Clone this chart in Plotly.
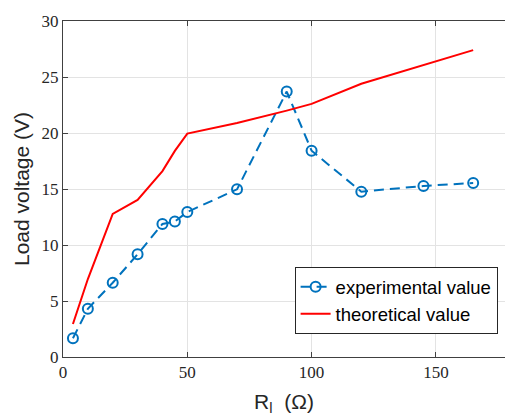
import plotly.graph_objects as go

r_exp = [4, 10, 20, 30, 40, 45, 50, 70, 90, 100, 120, 145, 165]
v_exp = [1.67, 4.31, 6.63, 9.17, 11.88, 12.1, 12.95, 14.97, 23.7, 18.42, 14.76, 15.27, 15.54]

r_th = [4, 10, 20, 30, 40, 45, 50, 70, 90, 100, 120, 145, 165]
v_th = [2.95, 6.96, 12.77, 14.02, 16.6, 18.4, 19.95, 20.9, 22.0, 22.6, 24.4, 26.1, 27.4]

x_ticks = [0, 50, 100, 150]
y_ticks = [0, 5, 10, 15, 20, 25, 30]

fig = go.Figure()
fig.add_trace(go.Scatter(
    x=r_exp, y=v_exp, mode="lines+markers", name="experimental value",
    line=dict(color="#0072BD", width=2, dash="10px,6px"),
    marker=dict(symbol="circle-open", size=10, color="#0072BD", line=dict(width=2)),
))
fig.add_trace(go.Scatter(
    x=r_th, y=v_th, mode="lines", name="theoretical value",
    line=dict(color="#FF0000", width=2),
))

tickfont = dict(family="Liberation Serif, serif", size=17, color="#262626")
fig.update_layout(
    width=505, height=416,
    margin=dict(l=63, r=0, t=21, b=59),
    paper_bgcolor="white", plot_bgcolor="white",
    showlegend=True,
    legend=dict(
        x=0.524, y=0.068, xanchor="left", yanchor="bottom",
        bgcolor="white", bordercolor="#262626", borderwidth=1,
        font=dict(family="Liberation Sans", size=18.5, color="black"),
        tracegroupgap=0, itemwidth=30,
    ),
    xaxis=dict(
        range=[0, 177.8], tickvals=x_ticks, ticktext=[str(t) for t in x_ticks],
        showgrid=True, gridcolor="#E3E3E3", gridwidth=1,
        showline=True, linecolor="#404040", linewidth=1, mirror="allticks",
        ticks="inside", ticklen=5, tickcolor="#404040",
        tickfont=tickfont, zeroline=False, automargin=False,
        title=dict(text="R<sub>l</sub>  (Ω)", font=dict(family="Liberation Sans", size=21, color="#262626"), standoff=14),
    ),
    yaxis=dict(
        range=[0, 30], tickvals=y_ticks, ticktext=[str(t) for t in y_ticks],
        showgrid=True, gridcolor="#E3E3E3", gridwidth=1,
        showline=True, linecolor="#404040", linewidth=1, mirror=False,
        ticks="inside", ticklen=5, tickcolor="#404040",
        tickfont=tickfont, zeroline=False, automargin=False,
        title=dict(text="Load voltage (V)", font=dict(family="Liberation Sans", size=21, color="#262626"), standoff=6),
    ),
)

fig.write_html(
    "out.html",
    config={"displayModeBar": False},
    post_script="document.body.style.margin='0';document.body.style.overflow='hidden';",
)
